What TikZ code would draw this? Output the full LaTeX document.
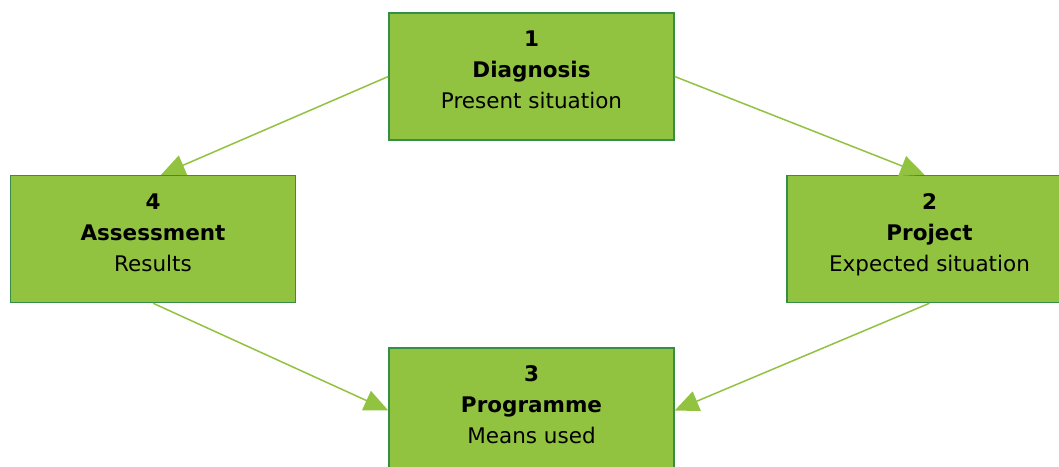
\documentclass[tikz,border=0pt]{standalone}
\usepackage{fontspec}
\setmainfont{DejaVu Sans}
\usetikzlibrary{arrows.meta,calc}
\definecolor{boxfill}{RGB}{146,195,64}
\definecolor{boxline}{RGB}{52,142,72}
\definecolor{arrowgreen}{RGB}{146,195,64}
\begin{document}
\begin{tikzpicture}[x=1pt,y=-1pt,
  stagebox/.style={draw=boxline, line width=1.4pt, fill=boxfill,
    minimum width=285pt, minimum height=127pt, inner sep=0pt,
    align=center, font=\fontsize{21.5}{31}\selectfont, text=black,
    text depth=13pt},
  flow/.style={draw=arrowgreen, line width=1.5pt,
    -{Triangle[length=24pt,width=21pt]}}]
  \useasboundingbox (0,0) rectangle (1059,466);
  \fill[white] (0,0) rectangle (1059,466);
  \clip (0,0) rectangle (1059,466);

  % the four stages of the cycle
  \node[stagebox] (d1) at (531.5,76.5) {\textbf{1}\\\textbf{Diagnosis}\\Present situation};
  \node[stagebox] (d2) at (929.5,239) {\textbf{2}\\\textbf{Project}\\Expected situation};
  \node[stagebox] (d3) at (531.5,411.5) {\textbf{3}\\\textbf{Programme}\\Means used};
  \node[stagebox] (d4) at (153,239) {\textbf{4}\\\textbf{Assessment}\\Results};

  % connectors between the stages
  \draw[flow] (d1.west) -- ($(d4.north)+(8,0)$);
  \draw[flow] (d1.east) -- ($(d2.north)+(-5,0)$);
  \draw[flow] (d4.south) -- ($(d3.west)+(0,-1)$);
  \draw[flow] (d2.south) -- ($(d3.east)+(0,-1)$);
\end{tikzpicture}
\end{document}
